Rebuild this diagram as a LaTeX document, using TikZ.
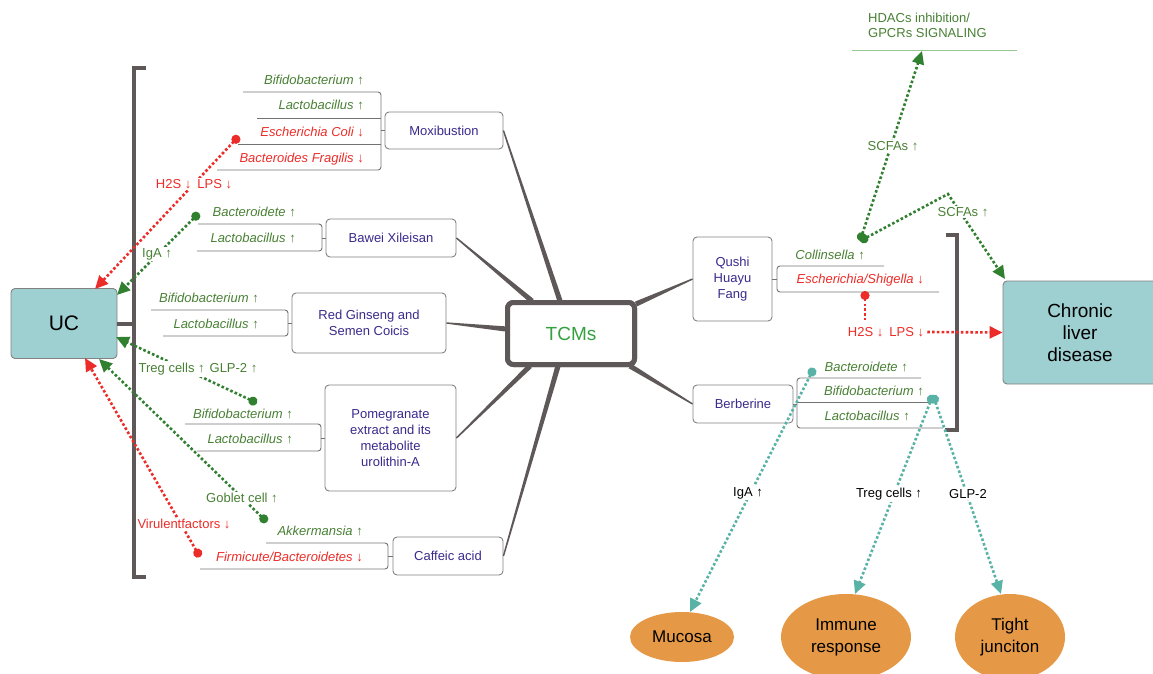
\documentclass[tikz,border=0pt]{standalone}
\usepackage{fontspec}
\setmainfont{Liberation Sans}
\usetikzlibrary{arrows.meta,calc,shapes.geometric}
\definecolor{labgreen}{RGB}{72,128,52}
\definecolor{dgreen}{RGB}{48,128,48}
\definecolor{lred}{RGB}{236,44,40}
\definecolor{tealc}{RGB}{88,178,165}
\definecolor{boxtext}{RGB}{58,42,140}
\definecolor{boxgray}{RGB}{130,130,130}
\definecolor{brkgray}{RGB}{95,88,88}
\definecolor{treegray}{RGB}{115,115,115}
\definecolor{ucfill}{RGB}{158,207,209}
\definecolor{orangef}{RGB}{229,153,70}
\definecolor{tcmgreen}{RGB}{52,160,64}
\definecolor{hdacline}{RGB}{150,200,150}
\newcommand{\taperline}[2]{\fill[brkgray] ($(#1)!0.7pt!90:(#2)$) -- ($(#2)!2.6pt!-90:(#1)$) -- ($(#2)!2.6pt!90:(#1)$) -- ($(#1)!0.7pt!-90:(#2)$) -- cycle;}
\begin{document}
\begin{tikzpicture}[x=1pt,y=-1pt,
  lab/.style={font=\fontsize{13}{15}\selectfont\itshape, inner sep=0pt, anchor=base east},
  glab/.style={lab, text=labgreen},
  rlab/.style={lab, text=lred},
  box/.style={draw=boxgray, line width=0.9pt, rounded corners=4pt, fill=white, text=boxtext, font=\fontsize{13}{16}\selectfont, align=center, inner sep=0pt},
  tree/.style={draw=treegray, line width=0.9pt, rounded corners=3pt},
  brk/.style={draw=brkgray, line width=4pt},
  onlab/.style={fill=white, inner sep=1.5pt, font=\fontsize{13}{15}\selectfont},
  dotline/.style={line width=2.6pt, dash pattern=on 2.6pt off 2.2pt},
  gdot/.style={dotline, draw=dgreen, {Circle[length=9pt,fill=dgreen]}-{Triangle[length=13pt,width=12pt,fill=dgreen]}},
  rdot/.style={dotline, draw=lred, {Circle[length=9pt,fill=lred]}-{Triangle[length=13pt,width=12pt,fill=lred]}},
  tdot/.style={dotline, draw=tealc, {Circle[length=9pt,fill=tealc]}-{Triangle[length=13pt,width=12pt,fill=tealc]}},
  oval/.style={ellipse, fill=orangef, inner sep=0pt, align=center, font=\fontsize{17}{22}\selectfont}
]
\useasboundingbox (0,0) rectangle (1153,674);

% ---------- central node ----------
\node[draw=brkgray, line width=5pt, rounded corners=6pt, fill=white, minimum width=127pt, minimum height=62pt, text=tcmgreen, font=\fontsize{19}{22}\selectfont] (tcm) at (571,333.5) {TCMs};

% ---------- boxes ----------
\node[box, minimum width=118pt, minimum height=37pt] (mox) at (444,130.5) {Moxibustion};
\node[box, minimum width=130pt, minimum height=38pt] (bawei) at (391,238) {Bawei Xileisan};
\node[box, minimum width=154pt, minimum height=60pt] (rg) at (369,323) {Red Ginseng and\\Semen Coicis};
\node[box, minimum width=131pt, minimum height=106pt] (pom) at (390.5,438) {Pomegranate\\extract and its\\metabolite\\urolithin-A};
\node[box, minimum width=110pt, minimum height=38pt] (caf) at (448,556) {Caffeic acid};
\node[box, minimum width=79pt, minimum height=84pt] (qushi) at (732.5,279) {Qushi\\Huayu\\Fang};
\node[box, minimum width=100pt, minimum height=38pt] (ber) at (743,404) {Berberine};

% ---------- tapered connectors to TCMs ----------
\coordinate (tm1) at (560,301);
\coordinate (tm2) at (532,301);
\coordinate (tm3) at (506,329);
\coordinate (tm4) at (530,366);
\coordinate (tm5) at (558,366);
\coordinate (tm6) at (636,304);
\coordinate (tm7) at (630,366);
\taperline{mox.east}{tm1}
\taperline{bawei.east}{tm2}
\taperline{rg.east}{tm3}
\taperline{pom.east}{tm4}
\taperline{caf.east}{tm5}
\taperline{qushi.west}{tm6}
\taperline{ber.west}{tm7}
\node[draw=brkgray, line width=5pt, rounded corners=6pt, fill=white, minimum width=127pt, minimum height=62pt, text=tcmgreen, font=\fontsize{19}{22}\selectfont] at (tcm.center) {TCMs};

% ---------- UC and brackets ----------
\node[draw=boxgray, line width=0.9pt, rounded corners=4pt, fill=ucfill, minimum width=106pt, minimum height=70pt, font=\fontsize{21}{24}\selectfont] (uc) at (64,323.5) {UC};
\draw[brk] (146,68) -- (134,68) -- (134,577) -- (146,577);
\draw[brk] (uc.east) -- (134,323.5);
\draw[brk] (946,235) -- (957,235) -- (957,430) -- (945,430);

\node[draw=boxgray, line width=0.9pt, rounded corners=4pt, fill=ucfill, minimum width=154pt, minimum height=103pt, align=center, font=\fontsize{19}{22}\selectfont] (cld) at (1080,332.5) {Chronic\\liver\\disease};

% ---------- trees ----------
\draw[tree] (243,92) -- (381,92) -- (381,170) -- (217,170);
\draw[tree] (257,118) -- (381,118);
\draw[tree] (238,144) -- (381,144);
\draw[tree] (381,130.5) -- (mox.west);

\draw[tree] (198,224) -- (322,224) -- (322,251) -- (197,251);
\draw[tree] (322,238) -- (bawei.west);

\draw[tree] (151,310) -- (288,310) -- (288,336) -- (163,336);
\draw[tree] (288,323) -- (rg.west);

\draw[tree] (185,424) -- (321,424) -- (321,451) -- (197,451);
\draw[tree] (321,438) -- (pom.west);

\draw[tree] (266,543) -- (388,543) -- (388,569) -- (200,569);
\draw[tree] (388,556) -- (caf.west);

\draw[tree] (884,266) -- (777,266) -- (777,292) -- (939,292);
\draw[tree] (qushi.east) -- (777,279);

\draw[tree] (921,378) -- (797,378) -- (797,428) -- (943,428);
\draw[tree] (797,402) -- (933,402);
\draw[tree] (ber.east) -- (797,404);

% ---------- bacteria labels ----------
\node[glab] (l1) at (364,85) {Bifidobacterium \upshape↑};
\node[glab] (l2) at (364,110) {Lactobacillus \upshape↑};
\node[rlab] (l3) at (364,136) {Escherichia Coli \upshape↓};
\node[rlab] (l4) at (364,162) {Bacteroides Fragilis \upshape↓};
\node[glab] (l5) at (296,216) {Bacteroidete \upshape↑};
\node[glab] (l6) at (296,242) {Lactobacillus \upshape↑};
\node[glab] (l7) at (259,302) {Bifidobacterium \upshape↑};
\node[glab] (l8) at (259,328) {Lactobacillus \upshape↑};
\node[glab] (l9) at (293,418) {Bifidobacterium \upshape↑};
\node[glab] (l10) at (293,443) {Lactobacillus \upshape↑};
\node[glab] (l11) at (363,535) {Akkermansia \upshape↑};
\node[rlab] (l12) at (363,561) {Firmicute/Bacteroidetes \upshape↓};
\node[glab] (r1) at (865,259) {Collinsella \upshape↑};
\node[rlab] (r2) at (924,283) {Escherichia/Shigella \upshape↓};
\node[glab] (r3) at (908,371) {Bacteroidete \upshape↑};
\node[glab] (r4) at (924,395) {Bifidobacterium \upshape↑};
\node[glab] (r5) at (910,420) {Lactobacillus \upshape↑};

% ---------- HDACs ----------
\node[anchor=west, align=left, inner sep=0pt, text=labgreen, font=\fontsize{13}{15}\selectfont] (hdac) at (868,25.5) {HDACs inhibition/\\GPCRs SIGNALING};
\draw[hdacline, line width=1pt] (852,51) -- (1017,51);
\coordinate (hdacin) at (922,51);

% ---------- outcome ellipses ----------
\node[oval, minimum width=104pt, minimum height=50pt] (muc) at (682,637) {Mucosa};
\node[oval, minimum width=130pt, minimum height=86pt] (imm) at (846,637) {Immune\\response};
\node[oval, minimum width=110pt, minimum height=86pt] (tj) at (1010,637) {Tight\\junciton};

% ---------- dotted connectors: left ----------
\coordinate (dA) at (239,136);  \coordinate (uA) at (95,289);
\coordinate (dB) at (199,213);  \coordinate (uB) at (117,295);
\coordinate (dC) at (257,403);  \coordinate (uC) at (116,337);
\coordinate (dD) at (267,522);  \coordinate (uD) at (99,359);
\coordinate (dE) at (200,557);  \coordinate (uE) at (85,358);
\draw[rdot] (dA) -- (uA);
\draw[gdot] (dB) -- (uB);
\draw[gdot] (dC) -- (uC);
\draw[gdot] (dD) -- (uD);
\draw[rdot] (dE) -- (uE);
\node[onlab, text=lred] (h2sl) at (194,184) {H2S ↓\hspace{6pt}LPS ↓};
\node[onlab, text=labgreen] (igal) at (157,254) {IgA ↑};
\node[onlab, text=labgreen] (tregl) at (198,369) {Treg cells ↑\hspace{5pt}GLP-2 ↑};
\node[onlab, text=labgreen] (gob) at (242,498) {Goblet cell ↑};
\node[onlab, text=lred] (vir) at (184,524) {Virulentfactors ↓};

% ---------- dotted connectors: right ----------
\coordinate (dcol) at (860,241);
\coordinate (peak) at (948,194);
\coordinate (cldtop) at (1005,279);
\draw[gdot] (dcol) -- (hdacin);
\draw[gdot] (dcol) -- (peak) -- (cldtop);
\node[onlab, text=labgreen] (scfa1) at (893,146) {SCFAs ↑};
\node[onlab, text=labgreen] (scfa2) at (963,212) {SCFAs ↑};

\coordinate (desh) at (865,291);
\coordinate (deshb) at (865,320);
\draw[dotline, draw=lred, {Circle[length=9pt,fill=lred]}-] (desh) -- (deshb);
\node[onlab, text=lred, inner sep=0pt] (h2sr) at (886,332) {H2S ↓\hspace{6pt}LPS ↓};
\draw[dotline, draw=lred, -{Triangle[length=13pt,width=12pt,fill=lred]}] ([xshift=3pt]h2sr.east) -- (cld.west);

\coordinate (dbac) at (814,368);
\coordinate (dbif) at (933,395);
\coordinate (mtop) at (690,612);
\coordinate (itop) at (855,594);
\coordinate (ttop) at (1001,594);
\draw[tdot] (dbac) -- (mtop);
\draw[tdot] (dbif) -- (itop);
\draw[tdot] (dbif) -- (ttop);
\node[onlab] (igar) at (748,493) {IgA ↑};
\node[onlab] (tregr) at (889,494) {Treg cells ↑};
\node[onlab] (glpr) at (968,494) {GLP-2};
\end{tikzpicture}
\end{document}
